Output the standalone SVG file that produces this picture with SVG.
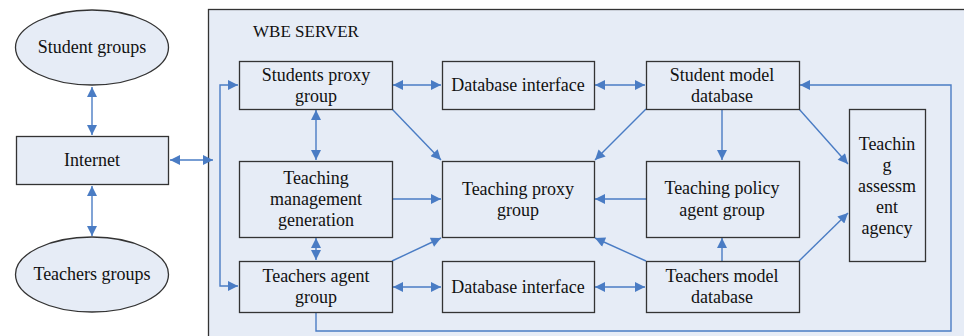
<svg xmlns="http://www.w3.org/2000/svg" width="964" height="336" viewBox="0 0 964 336">
<style>
.n{fill:#e6ecf6;stroke:#333;stroke-width:1.3}
.t{font-family:"Liberation Serif","Times New Roman",serif;font-size:18px;fill:#111;text-anchor:middle;dominant-baseline:central}
.c{fill:none;stroke:#4a7cc4;stroke-width:1.4}
</style>
<defs>
<marker id="a" viewBox="0 0 10 10" refX="10" refY="5" markerWidth="12" markerHeight="10" markerUnits="userSpaceOnUse" orient="auto-start-reverse">
<path d="M0,0 L10,5 L0,10 z" fill="#4a7cc4"/>
</marker>
</defs>
<rect width="964" height="336" fill="#fff"/>
<g id="server">
<rect class="n" x="208.5" y="9.5" width="770" height="340"/>
<text class="t" x="306" y="31" style="font-size:17px">WBE SERVER</text>
</g>
<g id="connectors">
<path class="c" d="M92,87 L92,135" marker-start="url(#a)" marker-end="url(#a)"/>
<path class="c" d="M92,186 L92,236" marker-start="url(#a)" marker-end="url(#a)"/>
<path class="c" d="M170,160 L213,160" marker-start="url(#a)" marker-end="url(#a)"/>
<path class="c" d="M238,85 L220,85 L220,286 L238,286" marker-start="url(#a)" marker-end="url(#a)"/>
<path class="c" d="M393,85 L441,85" marker-start="url(#a)" marker-end="url(#a)"/>
<path class="c" d="M595,85 L645,85" marker-start="url(#a)" marker-end="url(#a)"/>
<path class="c" d="M316,110 L316,160" marker-start="url(#a)" marker-end="url(#a)"/>
<path class="c" d="M392,109 L441,160" marker-end="url(#a)"/>
<path class="c" d="M646,109 L595,160" marker-end="url(#a)"/>
<path class="c" d="M722,109 L722,160" marker-end="url(#a)"/>
<path class="c" d="M799,109 L848,164" marker-end="url(#a)"/>
<path class="c" d="M392,199 L441,199" marker-end="url(#a)"/>
<path class="c" d="M646,199 L595,199" marker-end="url(#a)"/>
<path class="c" d="M316,238 L316,260" marker-start="url(#a)" marker-end="url(#a)"/>
<path class="c" d="M392,261 L441,238" marker-end="url(#a)"/>
<path class="c" d="M646,261 L595,238" marker-end="url(#a)"/>
<path class="c" d="M722,261 L722,238" marker-end="url(#a)"/>
<path class="c" d="M799,261 L848,213" marker-end="url(#a)"/>
<path class="c" d="M393,287 L441,287" marker-start="url(#a)" marker-end="url(#a)"/>
<path class="c" d="M595,287 L645,287" marker-start="url(#a)" marker-end="url(#a)"/>
<path class="c" d="M316,312 L316,331 L951,331 L951,85 L800,85" marker-end="url(#a)"/>
</g>
<g id="student-groups">
<ellipse class="n" cx="92" cy="47.5" rx="76.5" ry="37.5"/>
<text class="t" x="92" y="47">Student groups</text>
</g>
<g id="internet">
<rect class="n" x="16.5" y="136.5" width="152" height="48"/>
<text class="t" x="92" y="160">Internet</text>
</g>
<g id="teachers-groups">
<ellipse class="n" cx="92" cy="274.5" rx="76.5" ry="37.5"/>
<text class="t" x="92" y="274">Teachers groups</text>
</g>
<g id="students-proxy">
<rect class="n" x="239.5" y="61.5" width="153" height="48"/>
<text class="t" x="316" y="75">Students proxy</text>
<text class="t" x="316" y="96">group</text>
</g>
<g id="db-interface-top">
<rect class="n" x="442.5" y="61.5" width="152" height="48"/>
<text class="t" x="518" y="85">Database interface</text>
</g>
<g id="student-model">
<rect class="n" x="646.5" y="61.5" width="153" height="48"/>
<text class="t" x="722" y="75">Student model</text>
<text class="t" x="722" y="96">database</text>
</g>
<g id="teaching-management">
<rect class="n" x="239.5" y="161.5" width="153" height="76"/>
<text class="t" x="316" y="178">Teaching</text>
<text class="t" x="316" y="199">management</text>
<text class="t" x="316" y="220">generation</text>
</g>
<g id="teaching-proxy">
<rect class="n" x="442.5" y="161.5" width="152" height="76"/>
<text class="t" x="518" y="189">Teaching proxy</text>
<text class="t" x="518" y="210">group</text>
</g>
<g id="teaching-policy">
<rect class="n" x="646.5" y="161.5" width="153" height="76"/>
<text class="t" x="722" y="188">Teaching policy</text>
<text class="t" x="722" y="210">agent group</text>
</g>
<g id="teaching-assessment">
<rect class="n" x="849.5" y="109.5" width="76" height="152"/>
<text class="t" x="887" y="144">Teachin</text>
<text class="t" x="887" y="165">g</text>
<text class="t" x="887" y="186">assessm</text>
<text class="t" x="887" y="207">ent</text>
<text class="t" x="887" y="228">agency</text>
</g>
<g id="teachers-agent">
<rect class="n" x="239.5" y="261.5" width="153" height="51"/>
<text class="t" x="316" y="276">Teachers agent</text>
<text class="t" x="316" y="297">group</text>
</g>
<g id="db-interface-bottom">
<rect class="n" x="442.5" y="261.5" width="152" height="51"/>
<text class="t" x="518" y="287">Database interface</text>
</g>
<g id="teachers-model">
<rect class="n" x="646.5" y="261.5" width="153" height="51"/>
<text class="t" x="722" y="276">Teachers model</text>
<text class="t" x="722" y="297">database</text>
</g>
</svg>
